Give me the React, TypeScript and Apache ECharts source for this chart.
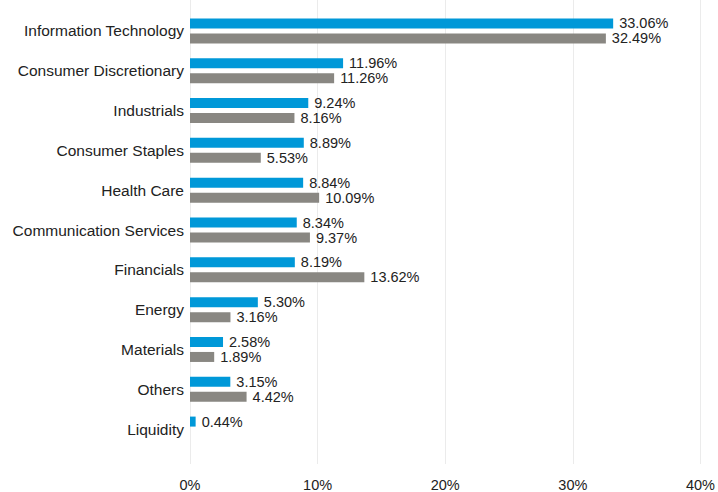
import React, { useEffect, useRef } from "react";
import * as echarts from "echarts";

const categories = [
  "Information Technology",
  "Consumer Discretionary",
  "Industrials",
  "Consumer Staples",
  "Health Care",
  "Communication Services",
  "Financials",
  "Energy",
  "Materials",
  "Others",
  "Liquidity",
];
const seriesA = [33.06, 11.96, 9.24, 8.89, 8.84, 8.34, 8.19, 5.3, 2.58, 3.15, 0.44];
const seriesB: (number | null)[] = [32.49, 11.26, 8.16, 5.53, 10.09, 9.37, 13.62, 3.16, 1.89, 4.42, null];
const xTicks = { min: 0, max: 40, interval: 10 };

const FONT = "Liberation Sans, Arial, sans-serif";
const TEXT = "#222222";

export default function App() {
  const ref = useRef<HTMLDivElement>(null);
  useEffect(() => {
    if (!ref.current) return;
    const chart = echarts.init(ref.current, undefined, { renderer: "svg" });
    const label = {
      show: true,
      position: "right" as const,
      distance: 6,
      color: TEXT,
      fontFamily: FONT,
      fontSize: 14.5,
      formatter: (p: any) => (p.value == null ? "" : p.value.toFixed(2) + "%"),
    };
    chart.setOption({
      animation: false,
      textStyle: { fontFamily: FONT },
      grid: [
        { left: 190, right: 16, top: 11, height: 438 },
        { left: 190, right: 16, top: 0, height: 468 },
      ],
      xAxis: [
        {
          gridIndex: 0,
          type: "value",
          ...xTicks,
          axisLabel: { show: false },
          splitLine: { show: false },
          axisLine: { show: false },
          axisTick: { show: false },
        },
        {
          gridIndex: 1,
          type: "value",
          ...xTicks,
          axisLabel: {
            formatter: "{value}%",
            color: TEXT,
            fontFamily: FONT,
            fontSize: 14.5,
            margin: 13,
          },
          splitLine: { show: true, lineStyle: { color: "#ebebeb", width: 1 } },
          axisLine: { show: false },
          axisTick: { show: false },
        },
      ],
      yAxis: [
        {
          gridIndex: 0,
          type: "category",
          inverse: true,
          data: categories,
          axisLine: { show: false },
          axisTick: { show: false },
          axisLabel: { color: TEXT, fontFamily: FONT, fontSize: 15.5, margin: 6 },
        },
        {
          gridIndex: 1,
          type: "category",
          show: false,
          data: [""],
        },
      ],
      series: [
        {
          type: "bar",
          xAxisIndex: 0,
          yAxisIndex: 0,
          data: seriesA,
          barWidth: 10,
          barGap: "50%",
          itemStyle: { color: "#0098d8" },
          label,
        },
        {
          type: "bar",
          xAxisIndex: 0,
          yAxisIndex: 0,
          data: seriesB,
          barWidth: 10,
          barGap: "50%",
          itemStyle: { color: "#898782" },
          label,
        },
      ],
    });
    return () => chart.dispose();
  }, []);
  return (
    <div
      ref={ref}
      style={{ position: "fixed", left: 0, top: 0, width: 718, height: 492, background: "#fff" }}
    />
  );
}
